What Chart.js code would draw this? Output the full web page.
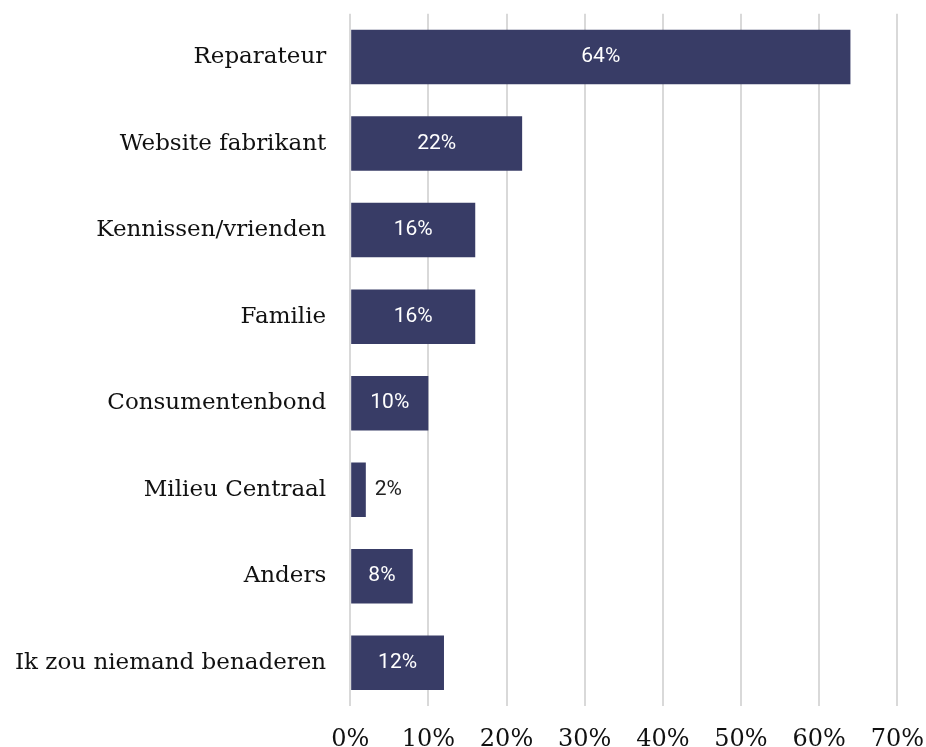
<html>
<head>
<style>
  body { margin: 0; background: #fff; }
  #wrap { width: 926px; height: 747px; }
</style>
</head>
<body>
<script src="https://cdn.jsdelivr.net/npm/chart.js@4/dist/chart.umd.min.js"></script>
<div id="wrap"><canvas id="myChart"></canvas></div>
<script>
let categories = ['Reparateur', 'Website fabrikant', 'Kennissen/vrienden', 'Familie',
                  'Consumentenbond', 'Milieu Centraal', 'Anders', 'Ik zou niemand benaderen'];
let values = [64, 22, 16, 16, 10, 2, 8, 12];
let tickLabels = ['0%', '10%', '20%', '30%', '40%', '50%', '60%', '70%'];

// simple value labels, white inside the bar, dark next to it if the bar is too short
const barLabels = {
  id: 'barLabels',
  afterDatasetsDraw(chart) {
    let ctx = chart.ctx;
    let meta = chart.getDatasetMeta(0);
    ctx.save();
    ctx.font = '21px Roboto';
    ctx.textBaseline = 'middle';
    meta.data.forEach((bar, i) => {
      let txt = values[i] + '%';
      let w = bar.x - bar.base;
      let tw = ctx.measureText(txt).width;
      if (w > tw + 10) {
        ctx.fillStyle = '#ffffff';
        ctx.textAlign = 'center';
        ctx.fillText(txt, (bar.x + bar.base) / 2, bar.y);
      } else {
        ctx.fillStyle = '#222222';
        ctx.textAlign = 'left';
        ctx.fillText(txt, bar.x + 9, bar.y);
      }
    });
    ctx.restore();
  }
};

let ctx = document.getElementById('myChart').getContext('2d');
let myChart = new Chart(ctx, {
  type: 'bar',
  data: {
    labels: categories,
    datasets: [{
      data: values,
      backgroundColor: '#383c66',
      categoryPercentage: 1,
      barPercentage: 0.63
    }]
  },
  options: {
    indexAxis: 'y',
    responsive: true,
    maintainAspectRatio: false,
    animation: false,
    layout: { padding: { top: 0, right: 0, bottom: -27, left: 15 } },
    plugins: {
      legend: { display: false },
      tooltip: { enabled: false }
    },
    scales: {
      x: {
        min: 0,
        max: 70,
        ticks: {
          stepSize: 10,
          color: '#111',
          font: { family: 'DejaVu Serif', size: 24, lineHeight: '64px' },
          padding: 2,
          callback: (v, i) => tickLabels[i]
        },
        grid: { color: '#d9d9d9', lineWidth: 2, drawTicks: false },
        border: { display: false }
      },
      y: {
        ticks: {
          color: '#111',
          font: { family: 'DejaVu Serif', size: 23 },
          padding: 0
        },
        // invisible tick marks give the gap between labels and bars
        grid: { display: true, drawOnChartArea: false, drawTicks: true, tickLength: 24, tickColor: 'rgba(0,0,0,0)' },
        border: { display: false }
      }
    }
  },
  plugins: [barLabels]
});
</script>
</body>
</html>
